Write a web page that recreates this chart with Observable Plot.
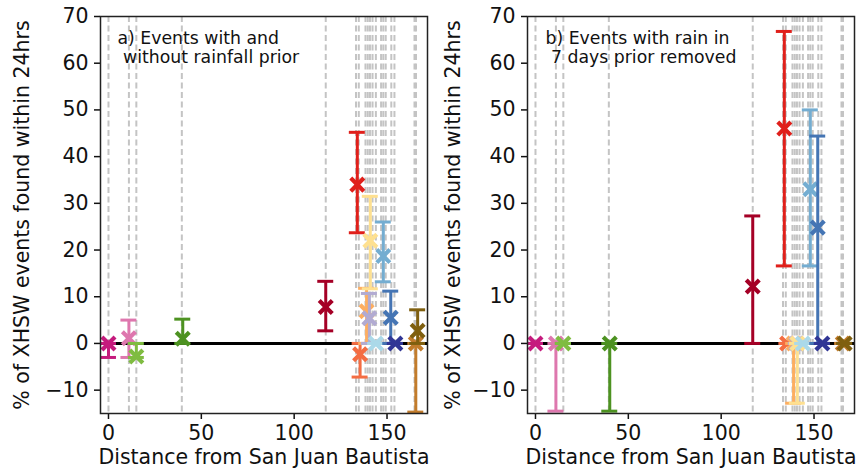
<!DOCTYPE html>
<html><head><meta charset="utf-8">
<script src="https://cdn.jsdelivr.net/npm/d3@7"></script>
<script src="https://cdn.jsdelivr.net/npm/@observablehq/plot@0.6"></script>
<style>
body{margin:0;background:#fff;}
#wrap{display:flex;width:866px;height:471px;overflow:hidden;}
</style></head><body><div id="wrap"></div>
<script>
// Sites (ordered by distance from San Juan Bautista)
const siteIds = ["S01","S02","S03","S04","S05","S06","S07","S08","S09","S10","S11","S12","S13","S14","S15","S16"];
const siteDistance = [0, 11, 15, 40, 117, 134, 135.5, 139, 140.5, 141, 144, 148, 152, 154.5, 165.5, 166.5];
const siteColors = ["#c51b7d","#de77ae","#7fbc41","#4d9221","#a50026","#e0201b","#f46d43","#fdae61","#b2abd2","#fee090","#abd9e9","#74add1","#4575b4","#313695","#c27c2c","#7f5f0f"];
// Station distances drawn as dashed reference lines
const stationLines = [0, 11, 15, 39.5, 117, 133.3, 134.8, 138.4, 139.6, 140.8, 142.2, 144, 146.8, 148, 149.3, 152.3, 154, 164.8, 165.6];

// Panel a) events with and without rainfall prior
const aMid = [0, 1.1, -2.8, 1, 7.8, 34, -2.3, 6.9, 5.4, 22, 0, 18.7, 5.5, 0, 0, 2.7];
const aLo  = [-3, -3, -3, 0, 2.7, 23.7, -7.2, 0, 0, 11.7, 0, 13.2, 0, 0, -14.7, 0];
const aHi  = [0, 5, 0, 5.2, 13.3, 45.2, 0, 11.8, 10.7, 31.5, 0, 26, 11.2, 0, 0, 7.2];
// Panel b) events with rain in 7 days prior removed
const bMid = [0, 0, 0, 0, 12.2, 46, 0, 0, 0, 0, 0, 33, 24.8, 0, 0, 0];
const bLo  = [0, -14.5, 0, -14.5, 0, 16.6, 0, -12.8, 0, -12.8, 0, 16.6, 0, 0, 0, 0];
const bHi  = [0, 0, 0, 0, 27.3, 66.8, 0, 0, 0, 0, 0, 50, 44.4, 0, 0, 0];

const panelTitles = ["a) Events with and\n\u00a0without rainfall prior", "b) Events with rain in\n\u00a07 days prior removed"];
const yTicks = [-10, 0, 10, 20, 30, 40, 50, 60, 70];
const xTicks = [0, 50, 100, 150];
const yLabel = "% of XHSW events found within 24hrs";
const xLabel = "Distance from San Juan Bautista";

const capHalf = 4.3;

function rowsFor(mid, lo, hi) {
  return siteIds.map((id, i) => ({id, x: siteDistance[i], color: siteColors[i], mid: mid[i], lo: lo[i], hi: hi[i]}));
}

function panel(rows, title, ml, mr, labelOffset, titleDx) {
  const marks = [
    Plot.ruleX(stationLines, {x: d => d, stroke: "#c4c4c4", strokeWidth: 2, strokeDasharray: "6,3.5"}),
    Plot.ruleY([0], {stroke: "#000", strokeWidth: 3})
  ];
  for (const r of rows) {
    marks.push(
      Plot.ruleX([r], {x: "x", y1: "lo", y2: "hi", stroke: "color", strokeWidth: 3}),
      Plot.ruleY([r], {y: "lo", x1: d => d.x - capHalf, x2: d => d.x + capHalf, stroke: "color", strokeWidth: 3}),
      Plot.ruleY([r], {y: "hi", x1: d => d.x - capHalf, x2: d => d.x + capHalf, stroke: "color", strokeWidth: 3}),
      Plot.dot([r], {x: "x", y: "mid", symbol: "times", r: 6, stroke: "color", strokeWidth: 4.2})
    );
  }
  marks.push(
    Plot.text([title], {text: d => d, frameAnchor: "top-left", dx: titleDx, dy: 14, lineAnchor: "top", textAnchor: "start", fontSize: 17.3, lineHeight: 1.1, fill: "#111"}),
    Plot.axisY({ticks: yTicks, tickSize: 6, tickPadding: 6, strokeWidth: 1.5, label: yLabel, labelAnchor: "center", labelArrow: "none", labelOffset: labelOffset}),
    Plot.axisX({ticks: xTicks, tickSize: 6, tickPadding: 6, strokeWidth: 1.5, label: xLabel, labelAnchor: "center", labelArrow: "none", labelOffset: 50}),
    Plot.frame({stroke: "#222", strokeWidth: 1.5})
  );
  return Plot.plot({
    width: 433, height: 471,
    marginLeft: ml, marginRight: mr, marginTop: 16, marginBottom: 58,
    x: {domain: [-4.3, 171.8]},
    y: {domain: [-15, 70]},
    style: {fontFamily: "DejaVu Sans", fontSize: "20.5px", color: "#111", background: "#fff"},
    marks
  });
}

const wrap = document.getElementById("wrap");
wrap.appendChild(panel(rowsFor(aMid, aLo, aHi), panelTitles[0], 100, 6, 86, 17));
wrap.appendChild(panel(rowsFor(bMid, bLo, bHi), panelTitles[1], 94, 12, 82, 18));
</script>
</body></html>
